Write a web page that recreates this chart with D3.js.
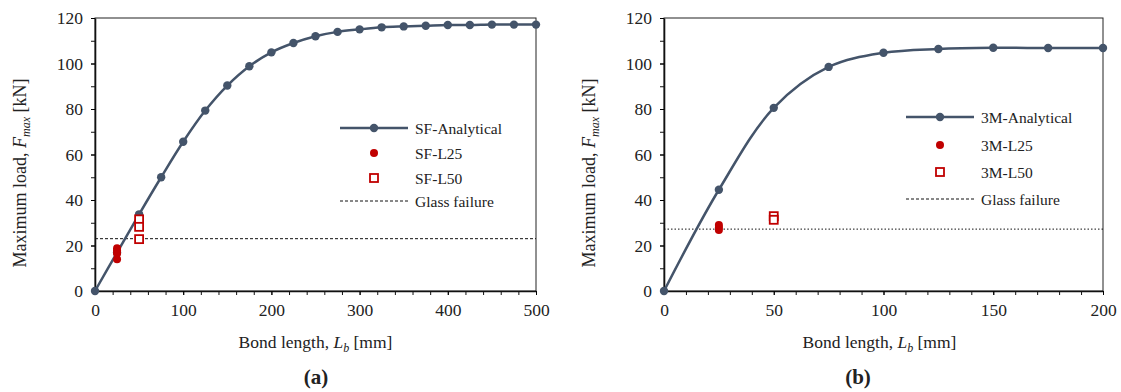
<!DOCTYPE html>
<html>
<head>
<meta charset="utf-8">
<script src="https://cdn.jsdelivr.net/npm/d3@7"></script>
<style>
  body { margin: 0; background: #fff; }
  svg text { font-family: "Liberation Serif", "Times New Roman", serif; fill: #222; }
</style>
</head>
<body>
<div id="chart"></div>
<script>
// ---- data ----
const sfLengths = [0, 25, 50, 75, 100, 125, 150, 175, 200, 225, 250, 275, 300, 325, 350, 375, 400, 425, 450, 475, 500];
const sfAnalytical = [0, 16.9, 33.7, 50.0, 65.6, 79.3, 90.3, 98.8, 104.9, 109.0, 112.0, 113.9, 115.0, 115.9, 116.3, 116.6, 116.9, 116.9, 117.1, 117.1, 117.1];
const sfL25 = [18.8, 17.8, 16.5, 14.0];
const sfL50 = [31.5, 28.2, 22.8];
const sfGlass = 23.0;

const mmLengths = [0, 25, 50, 75, 100, 125, 150, 175, 200];
const mmAnalytical = [0, 44.5, 80.5, 98.5, 104.7, 106.4, 106.9, 106.8, 106.8];
const mmL25 = [29.0, 27.9, 26.8];
const mmL50 = [32.9, 31.3];
const mmGlass = 27.2;

const yTicks = [0, 20, 40, 60, 80, 100, 120];
const sfXTicks = [0, 100, 200, 300, 400, 500];
const mmXTicks = [0, 50, 100, 150, 200];

const lineColor = "#44546A";
const red = "#C00000";

const svg = d3.select("#chart").append("svg")
    .attr("width", 1121)
    .attr("height", 392);

function drawPanel(p) {
    let x = d3.scaleLinear().domain([0, p.xMax]).range([p.left, p.right]);
    let y = d3.scaleLinear().domain([0, 120]).range([p.bottom, p.top]);
    let g = svg.append("g");

    // frame (top / right)
    g.append("rect")
        .attr("x", p.left).attr("y", p.top)
        .attr("width", p.right - p.left).attr("height", p.bottom - p.top)
        .attr("fill", "none").attr("stroke", "#222").attr("stroke-width", 1);

    // minor ticks
    let xAxisMinor = d3.axisBottom(x).tickValues(d3.range(0, p.xMax + 0.01, p.xMinor)).tickSize(4).tickFormat("");
    g.append("g").attr("transform", "translate(0," + p.bottom + ")").call(xAxisMinor)
        .call(a => a.select(".domain").remove())
        .selectAll("line").attr("stroke", "#111");
    let yAxisMinor = d3.axisLeft(y).tickValues(d3.range(0, 121, 10)).tickSize(4).tickFormat("");
    g.append("g").attr("transform", "translate(" + p.left + ",0)").call(yAxisMinor)
        .call(a => a.select(".domain").remove())
        .selectAll("line").attr("stroke", "#111");

    // main axes with labels
    let xAxis = d3.axisBottom(x).tickValues(p.xTicks).tickSize(4).tickPadding(9).tickSizeOuter(0);
    let xa = g.append("g").attr("transform", "translate(0," + p.bottom + ")").call(xAxis);
    xa.select(".domain").attr("stroke", "#111").attr("stroke-width", 1.6);
    xa.selectAll("text").attr("font-size", 17.5).attr("fill", "#222");

    let yAxis = d3.axisLeft(y).tickValues(yTicks).tickSize(4).tickPadding(8).tickSizeOuter(0);
    let ya = g.append("g").attr("transform", "translate(" + p.left + ",0)").call(yAxis);
    ya.select(".domain").attr("stroke", "#111").attr("stroke-width", 1.6);
    ya.selectAll("text").attr("font-size", 17.5).attr("fill", "#222");

    // glass failure line
    g.append("line")
        .attr("x1", p.left).attr("x2", p.right)
        .attr("y1", y(p.glass)).attr("y2", y(p.glass))
        .attr("stroke", "#111").attr("stroke-width", 1)
        .attr("stroke-dasharray", p.glassDash);

    // analytical curve
    let pts = p.lengths.map((d, i) => [d, p.analytical[i]]);
    g.append("path")
        .datum(pts)
        .attr("fill", "none")
        .attr("stroke", lineColor)
        .attr("stroke-width", 2.5)
        .attr("d", d3.line().x(d => x(d[0])).y(d => y(d[1])).curve(d3.curveCatmullRom.alpha(0.5)));
    g.selectAll(".an").data(pts).enter().append("circle")
        .attr("cx", d => x(d[0])).attr("cy", d => y(d[1]))
        .attr("r", 4.2).attr("fill", lineColor);

    // tests
    g.selectAll(".l25").data(p.l25).enter().append("circle")
        .attr("cx", x(25)).attr("cy", d => y(d))
        .attr("r", 4).attr("fill", red);
    g.selectAll(".l50").data(p.l50).enter().append("rect")
        .attr("x", x(50) - 4).attr("y", d => y(d) - 4)
        .attr("width", 8).attr("height", 8)
        .attr("fill", "#fff").attr("stroke", red).attr("stroke-width", 1.8);

    // legend
    let lx = p.legX, ly = p.legY, gap = p.legGap;
    let leg = g.append("g");
    leg.append("line").attr("x1", lx).attr("x2", lx + 68).attr("y1", ly).attr("y2", ly)
        .attr("stroke", lineColor).attr("stroke-width", 2.5);
    leg.append("circle").attr("cx", lx + 34).attr("cy", ly).attr("r", 4.2).attr("fill", lineColor);
    leg.append("circle").attr("cx", lx + 34).attr("cy", ly + gap[0]).attr("r", 4).attr("fill", red);
    leg.append("rect").attr("x", lx + 30).attr("y", ly + gap[1] - 4).attr("width", 8).attr("height", 8)
        .attr("fill", "#fff").attr("stroke", red).attr("stroke-width", 1.8);
    leg.append("line").attr("x1", lx).attr("x2", lx + 68).attr("y1", ly + gap[2]).attr("y2", ly + gap[2])
        .attr("stroke", "#111").attr("stroke-width", 1).attr("stroke-dasharray", "3,2");
    p.names.forEach((n, i) => {
        leg.append("text")
            .attr("x", lx + 75).attr("y", ly + (i === 0 ? 0 : gap[i - 1]) + 5.5)
            .attr("font-size", 15.5)
            .text(n);
    });

    // axis titles
    let xt = g.append("text")
        .attr("x", (p.left + p.right) / 2 + p.xtShift).attr("y", p.bottom + 57)
        .attr("text-anchor", "middle").attr("font-size", 17.5);
    xt.append("tspan").text("Bond length, ");
    xt.append("tspan").attr("font-style", "italic").text("L");
    xt.append("tspan").attr("font-style", "italic").attr("font-size", 12).attr("dy", 4).text("b");
    xt.append("tspan").attr("dy", -4).text(" [mm]");

    let yt = g.append("text")
        .attr("transform", "translate(" + (p.left - 69) + "," + 173 + ") rotate(-90)")
        .attr("text-anchor", "middle").attr("font-size", 18);
    yt.append("tspan").text("Maximum load, ");
    yt.append("tspan").attr("font-style", "italic").text("F");
    yt.append("tspan").attr("font-style", "italic").attr("font-size", 12).attr("dy", 4).text("max");
    yt.append("tspan").attr("dy", -4).text(" [kN]");

    g.append("text")
        .attr("x", p.capX).attr("y", 384)
        .attr("text-anchor", "middle").attr("font-size", 21).attr("font-weight", "bold")
        .text(p.caption);
}

drawPanel({
    left: 95, right: 536, top: 18, bottom: 291, xMax: 500, xMinor: 20, xTicks: sfXTicks,
    lengths: sfLengths, analytical: sfAnalytical, l25: sfL25, l50: sfL50,
    glass: sfGlass, glassDash: "3,2",
    legX: 340, legY: 128, legGap: [25, 50, 73],
    names: ["SF-Analytical", "SF-L25", "SF-L50", "Glass failure"],
    caption: "(a)", capX: 316, xtShift: 0
});

drawPanel({
    left: 664, right: 1103, top: 18, bottom: 291, xMax: 200, xMinor: 10, xTicks: mmXTicks,
    lengths: mmLengths, analytical: mmAnalytical, l25: mmL25, l50: mmL50,
    glass: mmGlass, glassDash: "1.5,2",
    legX: 906, legY: 117, legGap: [28, 55, 82],
    names: ["3M-Analytical", "3M-L25", "3M-L50", "Glass failure"],
    caption: "(b)", capX: 858, xtShift: -4
});
</script>
</body>
</html>
